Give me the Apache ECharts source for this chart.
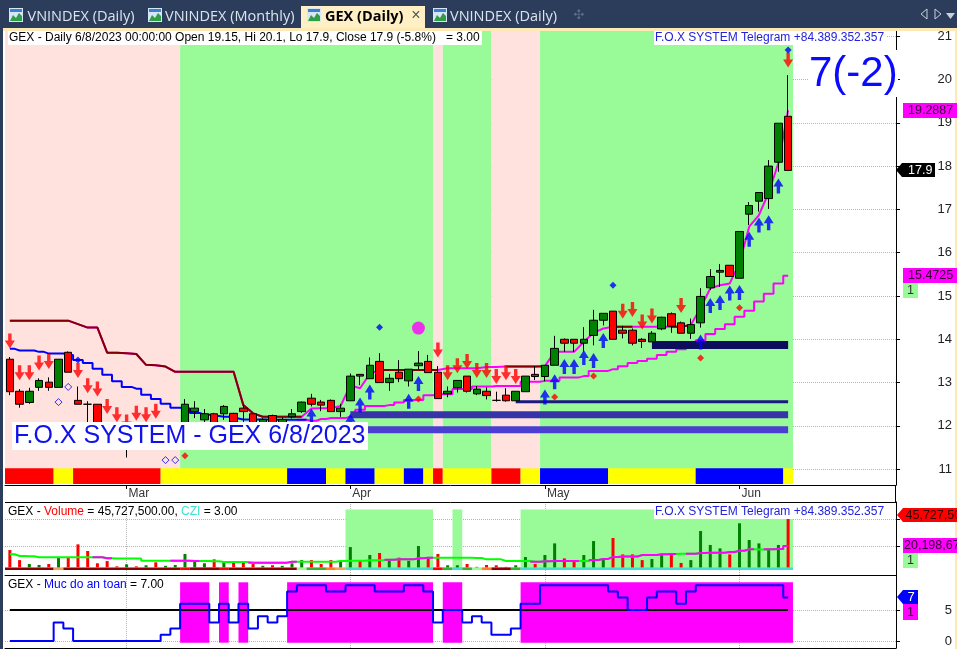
<!DOCTYPE html>
<html>
<head>
<meta charset="utf-8">
<title>GEX Daily</title>
<script src="https://cdn.jsdelivr.net/npm/echarts@6/dist/echarts.min.js"></script>
<style>
html,body{margin:0;padding:0;background:#fff;overflow:hidden}
#chart{width:957px;height:649px}
</style>
</head>
<body>
<div id="chart"></div>
<script>
// candles, one per trading day
var opens = [13.54,12.80,12.54,12.89,13.01,12.89,13.70,12.59,12.50,12.50,11.95,11.90,11.75,11.80,11.70,11.90,11.75,11.85,12.04,12.33,
	12.14,12.28,12.28,12.29,12.41,12.28,12.04,12.24,12.04,12.21,12.33,12.64,12.55,12.59,12.33,12.58,13.19,13.09,13.49,13.00,
	13.24,13.04,13.39,13.49,13.24,12.74,12.88,13.15,12.74,12.80,12.59,12.71,12.58,12.79,13.19,13.14,13.40,14.00,14.00,13.91,
	14.09,14.44,14.65,14.21,14.21,14.00,13.94,14.24,14.59,14.38,14.14,14.38,15.19,15.55,15.71,15.41,16.89,17.19,17.25,18.09,19.15];
var closes = [12.79,12.50,12.80,13.05,12.89,13.54,13.24,12.50,12.50,12.02,11.75,11.70,11.85,11.70,11.85,11.75,11.85,11.95,12.50,12.41,
	12.28,12.04,12.45,12.09,12.33,12.04,12.15,12.04,12.15,12.28,12.55,12.50,12.48,12.33,12.41,13.15,13.15,13.40,13.00,13.10,
	13.09,13.31,13.45,13.23,12.63,12.80,13.05,12.80,12.85,12.70,12.59,12.58,12.80,13.15,13.14,13.40,13.79,13.91,13.91,14.00,
	14.44,14.60,14.00,14.14,13.91,13.95,14.14,14.51,14.30,14.14,14.34,14.99,15.45,15.59,15.45,16.49,17.09,17.39,18.00,18.99,17.90];
var lows = [12.71,12.42,12.51,12.81,12.81,12.89,13.24,12.50,12.09,12.02,11.70,11.65,11.27,11.60,11.65,11.70,11.70,11.80,12.04,12.18,
	12.09,12.04,12.14,12.05,12.09,12.02,12.00,12.00,12.00,12.17,12.30,12.45,12.34,12.33,12.21,12.58,12.94,13.09,13.00,12.81,
	13.01,12.91,13.31,13.23,12.63,12.66,12.77,12.77,12.71,12.61,12.56,12.56,12.58,12.79,13.06,13.03,13.40,13.71,13.71,13.71,
	13.86,14.32,14.00,14.02,13.86,13.80,13.94,14.21,14.15,14.14,14.01,14.27,15.14,15.21,15.45,15.41,16.64,16.95,17.01,17.87,17.90];
var highs = [13.59,12.85,12.88,13.10,13.12,13.54,13.72,12.91,12.57,12.50,12.05,12.00,12.00,11.95,11.95,12.00,11.90,12.00,12.62,12.57,
	12.39,12.30,12.48,12.30,12.51,12.30,12.18,12.26,12.20,12.39,12.56,12.74,12.60,12.61,12.51,13.21,13.19,13.58,13.68,13.20,
	13.52,13.31,13.73,13.64,13.38,12.91,13.05,13.15,12.92,12.89,12.79,12.87,12.80,13.15,13.38,13.40,14.08,14.02,14.00,14.28,
	14.68,14.60,14.65,14.31,14.25,14.03,14.19,14.52,14.62,14.41,14.48,15.18,15.62,15.74,15.71,16.49,17.17,17.39,18.14,18.99,20.10];

// the two trend lines on the price panel
var upperLine = [14.43,14.43,14.43,14.43,14.43,14.43,14.43,14.35,14.27,14.27,13.69,13.69,13.68,13.66,13.41,13.40,13.37,13.25,13.25,13.25,
	13.25,13.25,13.25,13.25,12.48,12.29,12.21,12.21,12.21,12.21,12.21,12.40,12.41,12.41,12.46,12.94,12.87,13.20,13.29,13.29,
	13.29,13.29,13.29,13.29,13.29,13.33,13.33,13.33,13.33,13.36,13.36,13.37,13.37,13.37,13.37,13.38,13.71,13.71,13.71,13.94,
	14.15,14.25,14.29,14.29,14.29,14.29,14.29,14.29,14.29,14.29,14.33,14.72,15.18,15.25,15.29,15.76,16.60,16.87,17.38,18.07,19.29];
var upperRedRuns = [[0,30],[38,44],[51,55],[62,64],[68,70]];
var lowerLine = [13.78,13.74,13.74,13.71,13.67,13.67,13.64,13.52,13.45,13.32,13.18,13.03,12.90,12.86,12.72,12.62,12.51,12.42,12.40,12.30,
	12.26,12.23,12.21,12.17,12.15,12.15,12.15,12.14,12.14,12.14,12.14,12.12,12.16,12.18,12.18,12.21,12.37,12.46,12.46,12.48,
	12.54,12.60,12.60,12.71,12.73,12.73,12.85,12.85,12.91,12.91,12.92,12.92,12.92,13.02,13.02,13.04,13.04,13.12,13.12,13.15,
	13.27,13.27,13.31,13.38,13.45,13.50,13.55,13.64,13.71,13.77,13.87,13.98,14.12,14.24,14.35,14.52,14.66,14.87,15.05,15.29,15.47];
var lowerBlueEnd = 30;

// signals: [bar, price]
var sellArrows = [[0,13.96],[1,13.23],[2,13.23],[3,13.45],[4,13.49],[7,13.28],[8,12.93],[9,12.85],[10,12.45],[11,12.26],[12,12.09],[13,12.29],[14,12.26],[15,12.34],
	[44,13.75],[45,13.23],[46,13.39],[47,13.49],[48,13.28],[49,13.28],[50,13.14],[51,13.23],[52,13.14],[63,14.65],[64,14.69],[65,14.40],[66,14.54],[69,14.78],[80,20.45]];
var buyArrows = [[31,12.23],[35,12.11],[36,12.48],[37,12.78],[41,12.57],[42,12.98],[55,12.67],[56,13.02],[57,13.37],[58,13.37],[59,13.58],[60,13.51],[61,13.97],
	[71,13.94],[72,14.78],[73,14.85],[74,15.07],[75,15.08],[76,16.31],[77,16.64],[78,16.69],[79,17.54]];
var openDiamonds = [[5,12.55],[6,12.90],[16,11.21],[17,11.21]];
var blueDiamonds = [[7,13.52],[38,14.28],[62,15.25],[80,20.68]];
var redDiamonds = [[18,11.31],[42,12.62],[56,12.67],[60,13.15],[71,13.57],[75,14.73]];
var bigDots = [[42,14.26]];

// support levels: [first bar, last bar, price]
var supports = [[66,80,13.87],[52,80,12.56],[35,80,12.26],[30,80,11.91]];

// background zones and status strips: [first bar, last bar, state]
var zoneRuns = [[0,17,'weak'],[18,43,'strong'],[44,44,'weak'],[45,49,'strong'],[50,54,'weak'],[55,80,'strong']];
var stripRuns = [[0,4,'down'],[5,6,'flat'],[7,15,'down'],[16,28,'flat'],[29,32,'up'],[33,34,'flat'],[35,37,'up'],[38,40,'flat'],[41,42,'up'],[43,43,'flat'],
	[44,44,'down'],[45,49,'flat'],[50,52,'down'],[53,54,'flat'],[55,61,'up'],[62,70,'flat'],[71,79,'up'],[80,80,'flat']];
var volZoneRuns = [[35,43],[46,46],[53,80]];
var volStripRuns = [[0,4,'dark'],[5,5,'sand'],[6,17,'dark'],[18,18,'red'],[19,21,'dark'],[22,22,'red'],[23,29,'dark'],[30,30,'pale'],[31,32,'green'],[33,33,'orange'],[34,34,'sand'],
	[35,43,'cyan'],[44,44,'red'],[45,45,'green'],[46,46,'cyan'],[47,47,'green'],[48,48,'pale'],[49,49,'orange'],[50,51,'dark'],[52,52,'green'],[53,80,'cyan']];
var safeZoneRuns = [[18,20],[22,22],[24,24],[29,43],[45,46],[53,80]];

// volume panel, millions of shares
var volumes = [16.4,6.9,3.2,2.3,3.2,9.5,9.5,21.8,15.5,3.9,6.0,1.0,2.9,1.0,2.0,4.8,1.5,2.3,12.7,5.4,
	3.9,7.6,5.4,6.0,6.0,3.2,1.5,2.0,1.5,3.9,6.9,6.9,3.2,6.9,5.4,19.2,6.9,11.7,13.6,7.2,
	9.2,6.3,20.2,9.2,12.7,2.0,2.0,3.2,0.5,2.3,2.0,0.5,2.0,9.8,3.2,11.7,22.7,8.5,6.0,11.7,
	24.9,8.5,27.8,12.3,12.3,6.9,7.9,11.7,11.7,4.2,6.9,34.4,21.2,18.0,12.3,41.7,25.9,22.7,18.0,21.2,45.7];
var volumeAvg = [12.4,10.8,10.5,9.5,9.5,9.5,9.5,9.5,9.5,9.5,8.6,8.3,8.3,8.3,6.4,6.4,6.4,6.4,6.4,6.1,
	6.1,5.8,5.1,5.1,5.1,4.5,4.5,4.5,4.5,5.4,5.4,5.4,5.4,5.4,6.1,6.4,6.4,6.7,6.7,7.3,
	7.6,7.6,8.6,9.2,9.2,9.2,9.2,9.2,8.9,7.6,7.6,6.1,6.1,6.1,5.4,5.8,6.1,6.1,6.1,6.1,
	7.0,8.0,9.8,10.2,10.2,11.7,11.7,12.4,12.7,13.0,13.0,13.6,13.9,13.9,14.6,15.8,17.1,16.8,17.1,17.4,20.2];
var volAvgPinkRuns = [[9,10],[17,19],[25,29],[39,43],[54,58],[60,68],[70,76],[78,80]];

// safety level panel
var safety = [0,0,0,0,0,3,2,0,0,0,0,0,0,0,0,0,1,2,6,6,
	6,3,6,3,6,2,4,3,4,8,9,9,9,8,8,9,9,9,8,8,
	8,9,9,8,3,5,5,3,4,3,1,1,2,6,6,9,9,9,9,9,
	9,9,8,7,5,5,7,8,8,6,8,9,9,9,9,9,9,9,9,9,7];
var safetyLevel = 5;

// axes
var monthTicks = [12,35,55,75];
var monthNames = ['Mar','Apr','May','Jun'];
var priceTicks = [11,12,13,14,15,16,17,18,19,20,21];
var volumeTicks = [20.2,45.7];
var safetyTicks = [0,5];
var tabs = ['VNINDEX (Daily)','VNINDEX (Monthly)','GEX (Daily)','VNINDEX (Daily)'];

var stateColors = {weak:'#ffe1de',strong:'#98fb98',down:'#ff0000',flat:'#ffff00',up:'#0000ff',
	dark:'#8b0000',sand:'#f4a460',red:'#ff0000',pale:'#98fb98',green:'#32b432',orange:'#ff7f27',cyan:'#40e0d0'};
var UP_ARROW = 'path://M5 0 L10 8 L6.7 8 L6.7 15 L3.3 15 L3.3 8 L0 8 Z';
var DOWN_ARROW = 'path://M3.3 0 L6.7 0 L6.7 7 L10 7 L5 15 L0 7 L3.3 7 Z';
var SANS = '"Liberation Sans", Arial, sans-serif';

function inRuns(i,runs){
	for(var r=0;r<runs.length;r++){
		if(i>=runs[r][0] && i<=runs[r][1]) return true;
	}
	return false;
}
// keep only the bars inside the runs, so a second colour can lie on the first
function pick(values,runs){
	var out = [];
	for(var i=0;i<values.length;i++){
		out.push([i, inRuns(i,runs) ? values[i] : null]);
	}
	return out;
}
function bandSeries(runs,lo,hi,xIdx,yIdx,z,color){
	var data = [];
	for(var r=0;r<runs.length;r++){
		data.push({
			value:[runs[r][0],runs[r][1],lo,hi],
			itemStyle:{color: color || stateColors[runs[r][2]]}
		});
	}
	return {
		type:'custom', xAxisIndex:xIdx, yAxisIndex:yIdx, z:z, silent:true, clip:true,
		encode:{x:[0,1],y:[2,3]},
		renderItem:function(params,api){
			var a = api.coord([api.value(0)-0.5,api.value(3)]);
			var b = api.coord([api.value(1)+0.5,api.value(2)]);
			return {type:'rect',shape:{x:a[0],y:a[1],width:b[0]-a[0],height:b[1]-a[1]},style:{fill:api.style().fill}};
		},
		data:data
	};
}
function lineSeries(data,color,width,step,xIdx,yIdx,z){
	return {
		type:'line', xAxisIndex:xIdx, yAxisIndex:yIdx, z:z, silent:true, showSymbol:false, step:step,
		lineStyle:{color:color,width:width,cap:'butt'}, itemStyle:{color:color}, data:data
	};
}
function scatterSeries(data,symbol,size,style,z){
	return {type:'scatter', xAxisIndex:0, yAxisIndex:0, z:z, silent:true, symbol:symbol, symbolSize:size, itemStyle:style, data:data};
}

var candleData = [];
var volumeData = [];
for(var i=0;i<opens.length;i++){
	candleData.push([i,opens[i],closes[i],lows[i],highs[i]]);
	volumeData.push({value:[i,volumes[i]],itemStyle:{color: closes[i]<=opens[i] ? '#ff0000' : '#008000'}});
}
var allBars = [[0,opens.length-1]];

var supportStyles = [{c:'#0d0d5e',w:8},{c:'#1a1a80',w:3},{c:'#3535a8',w:7},{c:'#4a3fd0',w:7}];
var series = [
	bandSeries(zoneRuns,10.66,21.2,0,0,1),
	bandSeries(stripRuns,10.66,11.02,0,0,1.5),
	lineSeries(pick(upperLine,allBars),'#ff00ff',2,false,0,0,2),
	lineSeries(pick(upperLine,upperRedRuns),'#800000',2,false,0,0,2.1),
	lineSeries(pick(lowerLine,[[lowerBlueEnd,80]]),'#ff00ff',2,'middle',0,0,2),
	lineSeries(pick(lowerLine,[[0,lowerBlueEnd]]),'#0000ff',2,'middle',0,0,2.1),
	{
		type:'candlestick', xAxisIndex:0, yAxisIndex:0, z:4, silent:true, barWidth:8,
		encode:{x:0,y:[1,2,3,4]},
		itemStyle:{color:'#008000',color0:'#ff0000',borderColor:'#000',borderColor0:'#000',borderColorDoji:'#000',borderWidth:1},
		data:candleData
	},
	scatterSeries(sellArrows,DOWN_ARROW,[10,15],{color:'#ff0000'},5),
	scatterSeries(buyArrows,UP_ARROW,[10,15],{color:'#0000ff'},5),
	scatterSeries(openDiamonds,'diamond',7,{color:'rgba(0,0,0,0)',borderColor:'#0000ff',borderWidth:1},5),
	scatterSeries(blueDiamonds,'diamond',7,{color:'#0000ff'},5),
	scatterSeries(redDiamonds,'diamond',7,{color:'#ff0000'},5),
	scatterSeries(bigDots,'circle',13,{color:'#ff00ff'},5),
	// volume
	bandSeries(volZoneRuns,-2.5,54.8,1,1,1,'#98fb98'),
	bandSeries(volStripRuns,-2.5,0,1,1,1.5),
	{type:'bar', xAxisIndex:1, yAxisIndex:1, z:3, silent:true, barWidth:3, data:volumeData},
	lineSeries(pick(volumeAvg,allBars),'#00ff00',2,'middle',1,1,4),
	lineSeries(pick(volumeAvg,volAvgPinkRuns),'#ff00ff',2,'middle',1,1,4.1),
	// safety
	bandSeries(safeZoneRuns,-0.27,9.47,2,2,1,'#ff00ff'),
	lineSeries(pick(safety.map(function(){return safetyLevel;}),allBars),'#000000',2,false,2,2,2),
	lineSeries(pick(safety,allBars),'#0000ff',2,'middle',2,2,3)
];
for(var s=0;s<supports.length;s++){
	series.push(lineSeries([[supports[s][0],supports[s][2]],[supports[s][1],supports[s][2]]],supportStyles[s].c,supportStyles[s].w,false,0,0,3));
}

function xAxisFor(gridIndex,labels){
	return {
		type:'value', gridIndex:gridIndex, min:-0.5, max:91.09, position:'bottom',
		axisLine:{show:true,onZero:false,lineStyle:{color:'#000',width:1}},
		axisTick:{show:labels,length:4,customValues:monthTicks,lineStyle:{color:'#000'}},
		axisLabel:{show:labels,customValues:monthTicks,margin:3,align:'left',padding:[0,0,0,2],color:'#333',
			fontFamily:SANS,fontSize:12,
			formatter:function(v){ return monthNames[monthTicks.indexOf(v)]; }},
		splitLine:{show:true,customValues:monthTicks,lineStyle:{color:'#b4b4b4',type:'dotted'}}
	};
}
function yAxisFor(gridIndex,min,max,ticks,labels){
	return {
		type:'value', gridIndex:gridIndex, position:'right', min:min, max:max,
		axisLine:{show:true,onZero:false,lineStyle:{color:'#000',width:1}},
		axisTick:{show:true,length:4,customValues:ticks,lineStyle:{color:'#000'}},
		axisLabel:{show:labels,customValues:ticks,margin:56,align:'right',padding:[0,0,4,0],color:'#222',fontFamily:SANS,fontSize:13},
		splitLine:{show:true,customValues:ticks,lineStyle:{color:'#b4b4b4',type:'dotted'}}
	};
}

// window chrome and price flags
var g = [];
function rect(x,y,w,h,fill){ g.push({type:'rect',silent:true,z:100,shape:{x:x,y:y,width:w,height:h},style:{fill:fill}}); }
function text(x,y,str,font,fill,align){ g.push({type:'text',silent:true,z:101,style:{x:x,y:y,text:str,font:font,fill:fill,align:align||'left',verticalAlign:'middle'}}); }
function poly(points,fill){ g.push({type:'polygon',silent:true,z:100,shape:{points:points},style:{fill:fill}}); }
function flag(x,y,w,h,fill){ poly([[x,y+h/2],[x+6,y],[x+w,y],[x+w,y+h],[x+6,y+h]],fill); }

rect(0,0,957,28,'#2c3d5b');
rect(0,28,957,3,'#fde9b6');
rect(0,28,3,621,'#2c3d5b');
rect(955,28,2,621,'#fde9b6');
rect(301,6,124,22,'#ffefc4');
var tabIcons = [9,148,307,433];
var tabLabels = [27.5,165,325,450];
for(var t=0;t<tabs.length;t++){
	rect(tabIcons[t],8,14,14,'#d6e6f7');
	poly([[tabIcons[t]+1,21],[tabIcons[t]+4,15],[tabIcons[t]+7,18],[tabIcons[t]+10,13],[tabIcons[t]+13,16],[tabIcons[t]+13,21]],'#2f9e44');
	rect(tabIcons[t]+1,9,12,3,'#3b7fd0');
	text(tabLabels[t],17,tabs[t],(t==2?'bold ':'')+'14.5px "Open Sans", sans-serif',t==2?'#000':'#dce4ef');
}
text(416,16,'\u00d7','16px '+SANS,'#555','center');
text(579,16,'\u2723','13px "DejaVu Sans"','#5d6b84','center');
g.push({type:'polygon',silent:true,z:100,shape:{points:[[927,9],[927,19],[921,14]]},style:{fill:'none',stroke:'#c8d0dc'}});
g.push({type:'polygon',silent:true,z:100,shape:{points:[[935,9],[935,19],[941,14]]},style:{fill:'none',stroke:'#c8d0dc'}});
poly([[946,13],[955,13],[950.5,19]],'#c8d0dc');

// header strips
rect(8,31,474,14,'#fff');
text(9,38,'GEX - Daily 6/8/2023 00:00:00 Open 19.15, Hi 20.1, Lo 17.9, Close 17.9 (-5.8%)   = 3.00','12px '+SANS,'#000');
rect(654,31,232,14,'#fff');
text(655,37.5,'F.O.X SYSTEM Telegram +84.389.352.357','12px '+SANS,'#2222dd');
rect(654,505,232,14,'#fff');
text(655,511.5,'F.O.X SYSTEM Telegram +84.389.352.357','12px '+SANS,'#2222dd');
g.push({type:'text',silent:true,z:101,style:{x:8,y:511.5,verticalAlign:'middle',text:'GEX - {r|Volume} = 45,727,500.00, {c|CZI} = 3.00',font:'12px '+SANS,fill:'#000',
	rich:{r:{fill:'#ff0000',font:'12px '+SANS},c:{fill:'#40e0d0',font:'12px '+SANS}}}});
g.push({type:'text',silent:true,z:101,style:{x:8,y:585,verticalAlign:'middle',text:'GEX - {b|Muc do an toan} = 7.00',font:'12px '+SANS,fill:'#000',
	rich:{b:{fill:'#0000ff',font:'12px '+SANS}}}});

// big captions
rect(12,422,356,28,'#fff');
text(14,436,'F.O.X SYSTEM - GEX 6/8/2023','25px '+SANS,'#1111ee');
rect(808,50,90,47,'#fff');
text(809,74,'7(-2)','42px '+SANS,'#0a0aff');
g.push({type:'line',silent:true,z:99,shape:{x1:895.5,y1:485,x2:895.5,y2:502},style:{stroke:'#000',lineWidth:1}});
g.push({type:'line',silent:true,z:99,shape:{x1:5,y1:502.5,x2:896,y2:502.5},style:{stroke:'#000',lineWidth:1}});

// price flags on the right
rect(903,103,54,15,'#ff00ff'); text(908,111,'19.2887','12.5px '+SANS,'#330033');
flag(896,163,39,14,'#000'); text(908,170.5,'17.9','12.5px '+SANS,'#fff');
rect(903,268,54,15,'#ff00ff'); text(908,276,'15.4725','12.5px '+SANS,'#330033');
rect(903,283,15,15,'#98fb98'); text(910.5,291,'1','12.5px '+SANS,'#333','center');
flag(897,508,60,14,'#ff0000'); text(905.5,515.5,'45,727,500','12.5px '+SANS,'#330000');
rect(903,538,54,15,'#ff00ff'); text(904,546,'20,198,670','12.5px '+SANS,'#330033');
rect(903,553,15,15,'#98fb98'); text(910.5,561,'1','12.5px '+SANS,'#333','center');
flag(897,590,21,14,'#0000ff'); text(911,597.5,'7','13px '+SANS,'#fff','center');
rect(903,604,15,16,'#ff00ff'); text(910.5,612.5,'1','12.5px '+SANS,'#330033','center');

var myChart = echarts.init(document.getElementById('chart'),null,{renderer:'canvas'});
myChart.setOption({
	animation:false,
	backgroundColor:'#ffffff',
	grid:[
		{left:5,top:31,width:891,height:454},
		{left:5,top:502,width:891,height:73},
		{left:5,top:575,width:891,height:73}
	],
	xAxis:[xAxisFor(0,true),xAxisFor(1,false),xAxisFor(2,false)],
	yAxis:[
		yAxisFor(0,10.635,21.12,priceTicks,true),
		yAxisFor(1,-7.18,61.8,volumeTicks,false),
		yAxisFor(2,-1.13,10.65,safetyTicks,true)
	],
	series:series,
	graphic:{elements:g}
});
</script>
</body>
</html>
